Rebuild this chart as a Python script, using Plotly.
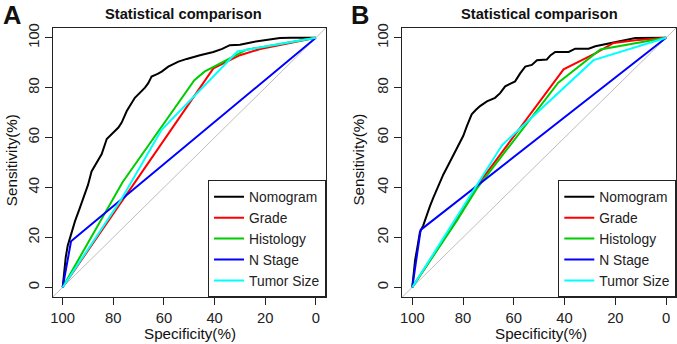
import plotly.graph_objects as go

# ---------------- data (Specificity %, Sensitivity %) ----------------
series_names = ["Nomogram", "Grade", "Histology", "N Stage", "Tumor Size"]
series_colors = ["#000000", "#FF0000", "#00CD00", "#0000FF", "#00FFFF"]

# Panel A
a_nomogram_spec = [100, 99.5, 98.8, 98, 97, 95.1, 93.5, 91.8, 90, 88.6, 87.2, 86, 84.6, 82.6, 80, 78, 76.7, 74.7,
                   71.5, 69.5, 67.5, 66.2, 64.9, 62.5, 60.9, 58.3, 54.3, 51, 48, 45.8, 40.5, 37, 34, 30, 24.7,
                   20, 14.2, 10, 0]
a_nomogram_sens = [0, 5, 12, 16.7, 20.5, 26.6, 31, 35.9, 41, 46.4, 48.8, 51, 53.4, 59.4, 62, 64, 66, 70.6,
                   75.9, 77.8, 80, 81.8, 84.4, 85.5, 86.4, 88.4, 90.4, 91.5, 92.5, 93, 94.3, 95.5, 97, 97.2, 98.3,
                   99, 99.9, 100, 100]
a_grade_spec = [100, 40.5, 30, 22, 0]
a_grade_sens = [0, 87.7, 93, 95.5, 100]
a_histology_spec = [100, 76.3, 48, 44, 27.4, 0]
a_histology_sens = [0, 42.2, 83, 86.4, 95.2, 100]
a_nstage_spec = [100, 96.7, 0]
a_nstage_sens = [0, 18.4, 100]
a_tumor_spec = [100, 77, 61, 31, 0]
a_tumor_sens = [0, 35, 63, 94.5, 100]

# Panel B
b_nomogram_spec = [100, 99.8, 99.6, 98.9, 98, 97, 95.7, 94.3, 93, 91.7, 89.7, 87.8, 85.1, 83.5, 81.8, 79.9, 78.5,
                   77.5, 76.6, 75, 73.3, 70.6, 67.4, 65.4, 63.4, 61.5, 59.5, 57.5, 55.5, 52.9, 50.9, 47, 45.5,
                   43.7, 38.4, 35.8, 30.5, 27.9, 21.3, 16.7, 12.1, 0]
b_nomogram_sens = [0, 2, 3.6, 10.8, 16, 22, 24.7, 29.3, 32.6, 35.9, 40.5, 45.1, 50.4, 53.5, 56.7, 60.7, 64.6,
                   67, 69.3, 71, 72.6, 74.5, 75.9, 77.8, 80.5, 81.5, 82.5, 85.7, 88.4, 89.1, 91, 91.3, 93,
                   94.3, 94.3, 95.6, 95.6, 96.6, 97.9, 98.9, 99.9, 100]
b_grade_spec = [100, 82.5, 74.6, 40.4, 27.9, 20.7, 12.1, 0]
b_grade_sens = [0, 27, 40.5, 87.3, 93.7, 97.9, 99, 100]
b_histology_spec = [100, 82.5, 74.6, 42.5, 25.9, 0]
b_histology_sens = [0, 26.6, 39.5, 82, 95.3, 100]
b_nstage_spec = [100, 96.7, 0]
b_nstage_sens = [0, 23, 100]
b_tumor_spec = [100, 64.6, 28.6, 0]
b_tumor_sens = [0, 57, 91, 100]

tick_vals = [0, 20, 40, 60, 80, 100]
tick_text = ["0", "20", "40", "60", "80", "100"]

panel_a = [(a_nomogram_spec, a_nomogram_sens), (a_grade_spec, a_grade_sens),
           (a_histology_spec, a_histology_sens), (a_nstage_spec, a_nstage_sens),
           (a_tumor_spec, a_tumor_sens)]
panel_b = [(b_nomogram_spec, b_nomogram_sens), (b_grade_spec, b_grade_sens),
           (b_histology_spec, b_histology_sens), (b_nstage_spec, b_nstage_sens),
           (b_tumor_spec, b_tumor_sens)]

FONT = "Liberation Sans, Arial, sans-serif"
W, H = 677, 344

fig = go.Figure()

for (xs, ys), name, col in zip(panel_a, series_names, series_colors):
    fig.add_trace(go.Scatter(x=xs, y=ys, mode="lines", name=name,
                             line=dict(color=col, width=2), xaxis="x", yaxis="y",
                             legend="legend"))
for (xs, ys), name, col in zip(panel_b, series_names, series_colors):
    fig.add_trace(go.Scatter(x=xs, y=ys, mode="lines", name=name,
                             line=dict(color=col, width=2), xaxis="x2", yaxis="y2",
                             legend="legend2"))

# plot-area boxes in pixels
ax_a = (50.7, 325.0)
ax_b = (401.3, 676.3)
y_top, y_bot = 24.0, 296.7
ydom = [1 - y_bot / H, 1 - y_top / H]

axis_common = dict(range=[104, -4], tickvals=tick_vals, ticktext=tick_text,
                   showgrid=False, zeroline=False, showline=True, mirror=True,
                   linecolor="#222222", linewidth=1, ticks="outside", ticklen=7,
                   tickcolor="#222222", tickfont=dict(family=FONT, size=14.8, color="#222222"))
yaxis_common = dict(axis_common)
yaxis_common.update(range=[-4, 104], tickangle=-90)

legend_common = dict(xanchor="right", y=ydom[0], yanchor="bottom",
                     bordercolor="#222222", borderwidth=1, bgcolor="white",
                     font=dict(family=FONT, size=13.8, color="#222222"), itemwidth=30)

fig.update_layout(
    width=W, height=H,
    margin=dict(l=0, r=0, t=0, b=0),
    paper_bgcolor="white", plot_bgcolor="white",
    font=dict(family=FONT, color="#222222"),
    xaxis=dict(domain=[ax_a[0] / W, ax_a[1] / W], anchor="y", **axis_common),
    yaxis=dict(domain=ydom, anchor="x", **yaxis_common),
    xaxis2=dict(domain=[ax_b[0] / W, ax_b[1] / W], anchor="y2", **axis_common),
    yaxis2=dict(domain=ydom, anchor="x2", **yaxis_common),
    legend=dict(x=ax_a[1] / W, **legend_common),
    legend2=dict(x=ax_b[1] / W, **legend_common),
)

# diagonal reference lines (domain corners)
for xr, yr in (("x domain", "y domain"), ("x2 domain", "y2 domain")):
    fig.add_shape(type="line", xref=xr, yref=yr, x0=0, y0=0, x1=1, y1=1,
                  line=dict(color="#BEBEBE", width=1), layer="below")

def ann(text, x, y, size, bold=False, angle=0):
    fig.add_annotation(text=f"<b>{text}</b>" if bold else text, x=x / W, y=1 - y / H,
                       xref="paper", yref="paper", showarrow=False, textangle=angle,
                       xanchor="center", yanchor="middle",
                       font=dict(family=FONT, size=size, color="#111111"))

ann("A", 10.5, 11.5, 25.5, bold=True)
ann("B", 359.5, 11.5, 25.5, bold=True)
ann("Statistical comparison", 182.5, 10.5, 14.7, bold=True)
ann("Statistical comparison", 539, 10.5, 14.7, bold=True)
ann("Specificity(%)", 188.3, 333.3, 15.2)
ann("Specificity(%)", 540.3, 333.3, 15.2)
ann("Sensitivity(%)", 9.5, 157.5, 15.2, angle=-90)
ann("Sensitivity(%)", 358, 157.5, 15.2, angle=-90)

fig.write_html("out.html", config={"displayModeBar": False},
               post_script="document.body.style.margin='0';document.body.style.overflow='hidden';")
